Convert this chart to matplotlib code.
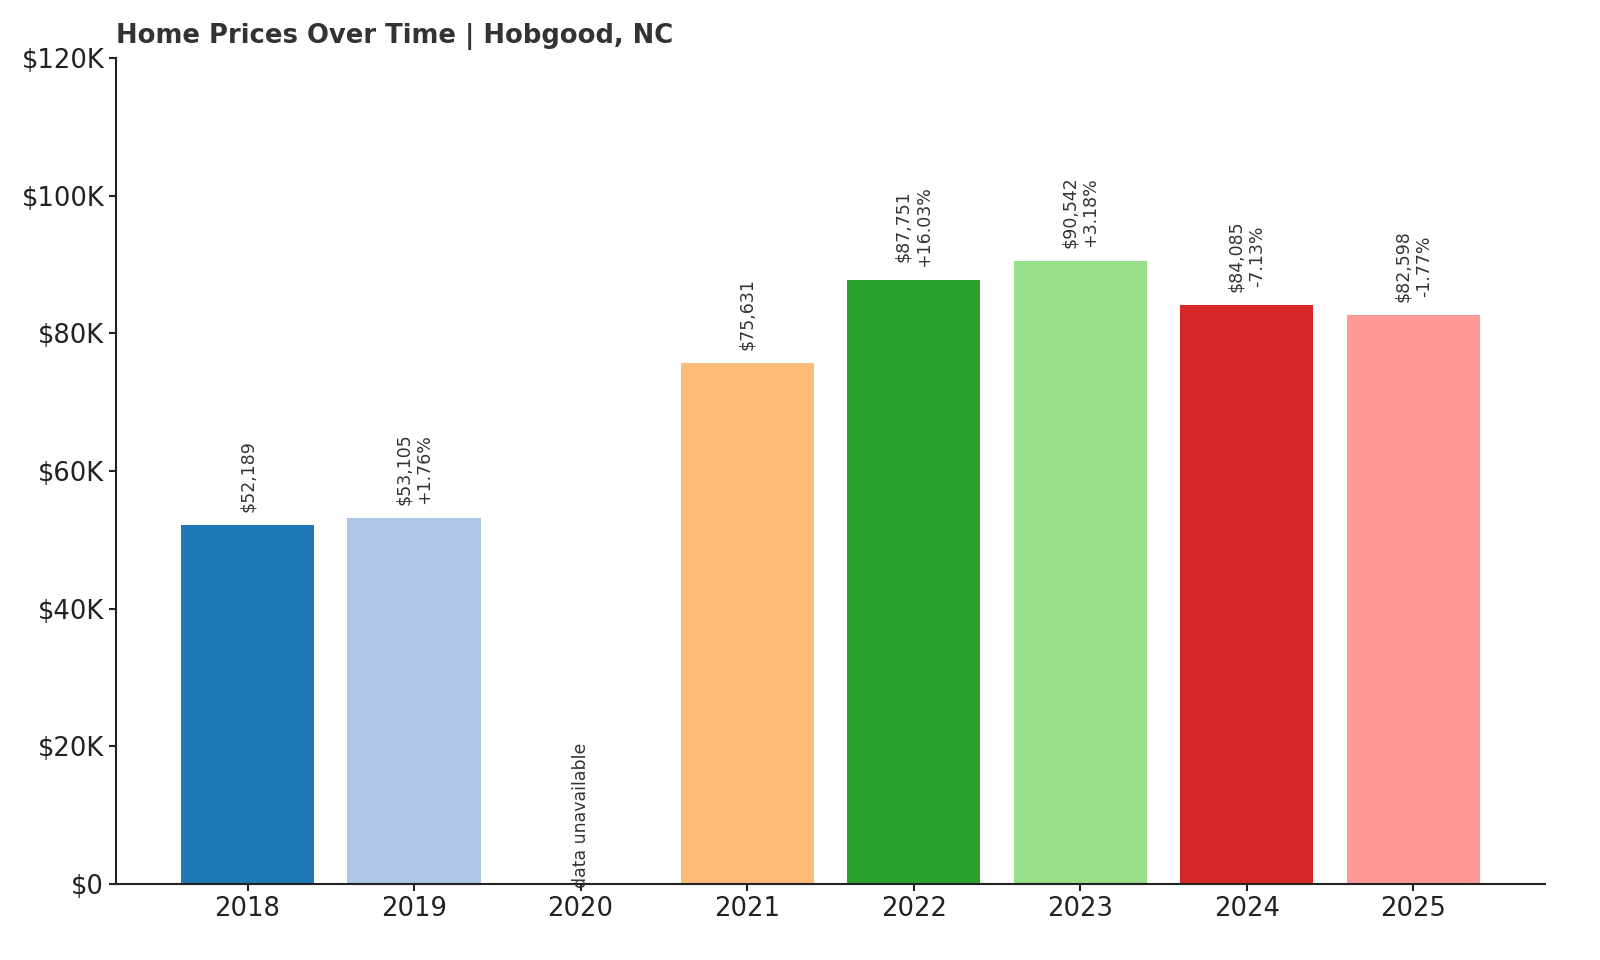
import matplotlib
matplotlib.use("Agg")
import matplotlib.pyplot as plt
from matplotlib.ticker import FuncFormatter

# home values (None = no data that year)
years = ["2018", "2019", "2020", "2021", "2022", "2023", "2024", "2025"]
prices = [52189, 53105, None, 75631, 87751, 90542, 84085, 82598]
changes = [None, "+1.76%", None, None, "+16.03%", "+3.18%", "-7.13%", "-1.77%"]
colors = plt.get_cmap("tab20").colors

fig = plt.figure(figsize=(16, 9.6), dpi=100)
ax = fig.add_axes([0.0725, 0.0792, 0.893, 0.8604])

for i, (yr, p) in enumerate(zip(years, prices)):
    if p is None:
        ax.annotate("data unavailable", (i, 0), xytext=(0, -3), textcoords="offset points",
                    rotation=90, ha="center", va="bottom", fontsize=12.5, color="#333333")
        continue
    ax.bar(i, p, width=0.8, color=colors[i])
    lbl = f"${p:,}" if changes[i] is None else f"${p:,}\n{changes[i]}"
    ax.text(i, p + 1900, lbl, rotation=90, ha="center", va="bottom",
            fontsize=12.5, color="#333333")

ax.set_xticks(range(len(years)))
ax.set_xticklabels(years)
ax.set_ylim(0, 120000)
ax.set_yticks(range(0, 120001, 20000))
ax.yaxis.set_major_formatter(FuncFormatter(lambda v, _: "$0" if v == 0 else f"${v/1000:.0f}K"))
ax.tick_params(labelsize=18.6, colors="#222222", length=5, width=1.5)
for s in ("top", "right"):
    ax.spines[s].set_visible(False)
for s in ("left", "bottom"):
    ax.spines[s].set_linewidth(1.5)
    ax.spines[s].set_color("#222222")

ax.set_title("Home Prices Over Time | Hobgood, NC", loc="left", fontsize=18.6,
             fontweight="bold", color="#333333", pad=11)

fig.savefig("out.png", dpi=100)
